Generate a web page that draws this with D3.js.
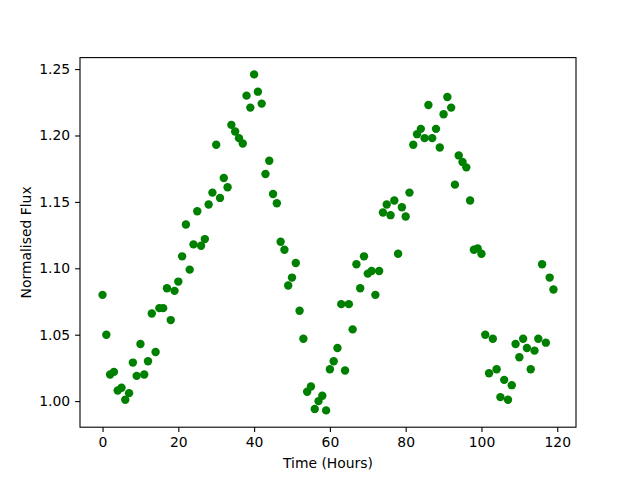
<!DOCTYPE html>
<html>
<head>
<meta charset="utf-8">
<script src="https://cdn.jsdelivr.net/npm/d3@7"></script>
<style>
  body { margin: 0; background: #fff; }
  text { font-family: "DejaVu Sans", sans-serif; fill: #000; }
</style>
</head>
<body>
<div id="chart"></div>
<script>
// light curve: flux sampled once an hour
var hours = [0,1,2,3,4,5,6,7,8,9,10,11,12,13,14,15,16,17,18,19,
  20,21,22,23,24,25,26,27,28,29,30,31,32,33,34,35,36,37,38,39,
  40,41,42,43,44,45,46,47,48,49,50,51,52,53,54,55,56,57,58,59,
  60,61,62,63,64,65,66,67,68,69,70,71,72,73,74,75,76,77,78,79,
  80,81,82,83,84,85,86,87,88,89,90,91,92,93,94,95,96,97,98,99,
  100,101,102,103,104,105,106,107,108,109,110,111,112,113,114,115,116,117,118,119];

var flux = [1.080,1.050,1.020,1.022,1.008,1.010,1.001,1.006,1.029,1.019,
  1.043,1.020,1.030,1.066,1.037,1.070,1.070,1.085,1.061,1.083,
  1.090,1.109,1.133,1.099,1.118,1.143,1.117,1.122,1.148,1.157,
  1.193,1.153,1.168,1.161,1.208,1.203,1.198,1.194,1.230,1.221,
  1.246,1.233,1.224,1.171,1.181,1.156,1.149,1.120,1.114,1.087,
  1.093,1.104,1.068,1.047,1.007,1.011,0.994,1.000,1.004,0.993,
  1.024,1.030,1.040,1.073,1.023,1.073,1.054,1.103,1.085,1.109,
  1.096,1.098,1.080,1.098,1.142,1.148,1.140,1.151,1.111,1.146,
  1.139,1.157,1.193,1.201,1.205,1.198,1.223,1.198,1.205,1.191,
  1.216,1.229,1.221,1.163,1.185,1.180,1.176,1.151,1.114,1.115,
  1.111,1.050,1.021,1.047,1.024,1.003,1.016,1.001,1.012,1.043,
  1.033,1.047,1.040,1.024,1.038,1.047,1.103,1.044,1.093,1.084];

var xTicks = [0, 20, 40, 60, 80, 100, 120];
var yTicks = [1.00, 1.05, 1.10, 1.15, 1.20, 1.25];

var width = 640, height = 480;
var margin = {top: 57.6, left: 80, bottom: 52.8, right: 64}; // matplotlib default subplot box

var svg = d3.select('#chart').append('svg')
    .attr('width', width)
    .attr('height', height);

// 5% padding either side, like the default autoscale
function padded(ext) {
  var d = (ext[1] - ext[0]) * 0.05;
  return [ext[0] - d, ext[1] + d];
}

var x = d3.scaleLinear()
    .domain(padded(d3.extent(hours)))
    .range([margin.left, width - margin.right]);

var y = d3.scaleLinear()
    .domain(padded(d3.extent(flux)))
    .range([height - margin.bottom, margin.top]);

var pts = hours.map(function(h, i) { return {h: h, f: flux[i]}; });

svg.append('g')
  .selectAll('circle')
  .data(pts)
  .enter().append('circle')
    .attr('cx', function(d) { return x(d.h); })
    .attr('cy', function(d) { return y(d.f); })
    .attr('r', 4.2)
    .attr('fill', '#008000');

var xAxis = svg.append('g')
    .attr('transform', 'translate(0,' + (height - margin.bottom) + ')')
    .call(d3.axisBottom(x).tickValues(xTicks).tickSize(4.9).tickPadding(4.9));

var yAxis = svg.append('g')
    .attr('transform', 'translate(' + margin.left + ',0)')
    .call(d3.axisLeft(y).tickValues(yTicks).tickFormat(d3.format('.2f')).tickSize(4.9).tickPadding(4.9));

[xAxis, yAxis].forEach(function(ax) {
  ax.select('.domain').remove();
  ax.selectAll('line').attr('stroke', '#000').attr('stroke-width', 1.1);
  ax.selectAll('text').style('font-size', '13.9px').style('font-family', '"DejaVu Sans", sans-serif');
});

// frame round the plot
svg.append('rect')
    .attr('x', margin.left)
    .attr('y', margin.top)
    .attr('width', width - margin.left - margin.right)
    .attr('height', height - margin.top - margin.bottom)
    .attr('fill', 'none')
    .attr('stroke', '#000')
    .attr('stroke-width', 1.1);

svg.append('text')
    .attr('x', (margin.left + width - margin.right) / 2)
    .attr('y', 468)
    .attr('text-anchor', 'middle')
    .style('font-size', '13.9px')
    .text('Time (Hours)');

svg.append('text')
    .attr('transform', 'translate(31,' + ((margin.top + height - margin.bottom) / 2) + ') rotate(-90)')
    .attr('text-anchor', 'middle')
    .style('font-size', '13.9px')
    .text('Normalised Flux');
</script>
</body>
</html>
